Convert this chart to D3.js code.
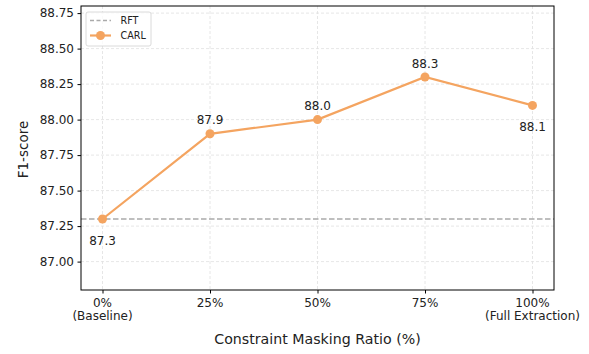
<!DOCTYPE html>
<html><head><meta charset="utf-8">
<script src="https://cdn.jsdelivr.net/npm/d3@7"></script>
<style>body{margin:0;background:#fff;}text{font-family:"DejaVu Sans",sans-serif;}</style>
</head><body>
<svg id="c" width="589" height="354"></svg>
<script>
const categories = ["0%\n(Baseline)", "25%", "50%", "75%", "100%\n(Full Extraction)"];
const carlValues = [87.3, 87.9, 88.0, 88.3, 88.1];
const rftValue = 87.3;
const labelPos = ["below", "above", "above", "above", "below"];
const yTicks = [87.00, 87.25, 87.50, 87.75, 88.00, 88.25, 88.50, 88.75];

const svg = d3.select("#c");
const L = 81, R = 554, T = 6, B = 290;
const x = d3.scaleLinear().domain([-0.2, 4.2]).range([L, R]);
const y = d3.scaleLinear().domain([86.8, 88.8]).range([B, T]);
const orange = "#f4a460";

// grid
const g = svg.append("g");
g.selectAll(".gx").data(categories).enter().append("line")
  .attr("x1", (d,i)=>x(i)).attr("x2",(d,i)=>x(i)).attr("y1",T).attr("y2",B)
  .attr("stroke","#e0e0e0").attr("stroke-width",0.8).attr("stroke-dasharray","3,2");
g.selectAll(".gy").data(yTicks).enter().append("line")
  .attr("x1",L).attr("x2",R).attr("y1",d=>y(d)).attr("y2",d=>y(d))
  .attr("stroke","#e0e0e0").attr("stroke-width",0.8).attr("stroke-dasharray","3,2");

// RFT line
svg.append("line").attr("x1",L).attr("x2",R).attr("y1",y(rftValue)).attr("y2",y(rftValue))
  .attr("stroke","#aaaaaa").attr("stroke-width",1.5).attr("stroke-dasharray","5.5,2.5");

// CARL line
svg.append("path").datum(carlValues)
  .attr("d", d3.line().x((d,i)=>x(i)).y(d=>y(d)))
  .attr("fill","none").attr("stroke",orange).attr("stroke-width",2.2);
svg.selectAll(".pt").data(carlValues).enter().append("circle")
  .attr("cx",(d,i)=>x(i)).attr("cy",d=>y(d)).attr("r",4.5).attr("fill",orange);

// value labels
svg.selectAll(".vl").data(carlValues).enter().append("text")
  .attr("x",(d,i)=>x(i)).attr("y",(d,i)=> labelPos[i]==="above" ? y(d)-9.5 : y(d)+25.5)
  .attr("text-anchor","middle").attr("font-size",12).attr("fill","#222")
  .text(d=>d.toFixed(1));

// frame
svg.append("rect").attr("x",L).attr("y",T).attr("width",R-L).attr("height",B-T)
  .attr("fill","none").attr("stroke","#000").attr("stroke-width",1);

// y axis
const ya = svg.append("g").attr("transform",`translate(${L},0)`)
  .call(d3.axisLeft(y).tickValues(yTicks).tickFormat(d3.format(".2f")).tickSize(3.5).tickPadding(3.5));
ya.select(".domain").remove();
ya.selectAll("text").attr("font-size",12).attr("fill","#222").style("font-family","DejaVu Sans");
ya.selectAll("line").attr("stroke","#000");

// x axis
const xa = svg.append("g").attr("transform",`translate(0,${B})`)
  .call(d3.axisBottom(x).tickValues(d3.range(categories.length)).tickFormat("").tickSize(3.5));
xa.select(".domain").remove();
xa.selectAll("line").attr("stroke","#000");
categories.forEach((c,i)=>{
  const lines = c.split("\n");
  const t = svg.append("text").attr("x",x(i)).attr("y",B+16.7).attr("text-anchor","middle")
    .attr("font-size",12).attr("fill","#222");
  lines.forEach((ln,j)=> t.append("tspan").attr("x",x(i)).attr("dy", j===0?0:13.6).text(ln));
});

// axis titles
svg.append("text").attr("x",(L+R)/2).attr("y",344.3).attr("text-anchor","middle")
  .attr("font-size",14.2).attr("fill","#222").text("Constraint Masking Ratio (%)");
svg.append("text").attr("transform",`translate(28,${(T+B)/2+1.5}) rotate(-90)`).attr("text-anchor","middle")
  .attr("font-size",13.5).attr("fill","#222").text("F1-score");

// legend
const lg = svg.append("g");
lg.append("rect").attr("x",86).attr("y",12).attr("width",65).attr("height",34).attr("rx",2)
  .attr("fill","#fff").attr("fill-opacity",0.8).attr("stroke","#d0d0d0").attr("stroke-width",0.8);
lg.append("line").attr("x1",90).attr("x2",111).attr("y1",20.5).attr("y2",20.5)
  .attr("stroke","#aaaaaa").attr("stroke-width",1.5).attr("stroke-dasharray","4,2.5");
lg.append("text").attr("x",120.5).attr("y",24).attr("font-size",9.6).attr("fill","#222").text("RFT");
lg.append("line").attr("x1",90).attr("x2",111).attr("y1",35.5).attr("y2",35.5)
  .attr("stroke",orange).attr("stroke-width",2.2);
lg.append("circle").attr("cx",100.5).attr("cy",35.5).attr("r",4.5).attr("fill",orange);
lg.append("text").attr("x",120.5).attr("y",39).attr("font-size",9.6).attr("fill","#222").text("CARL");
</script>
</body></html>
